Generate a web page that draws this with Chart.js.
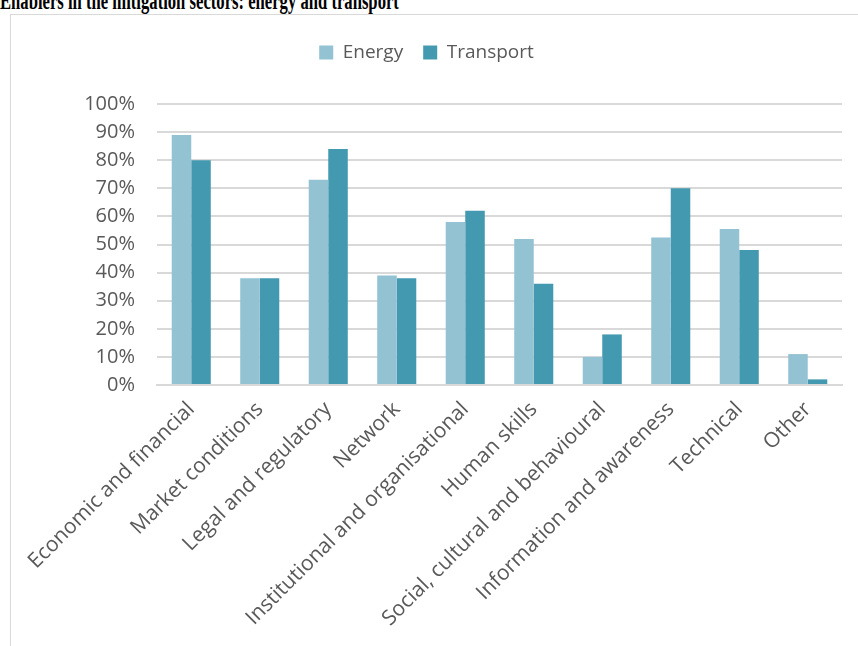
<!DOCTYPE html>
<html>
<head>
<meta charset="utf-8">
<script src="https://cdn.jsdelivr.net/npm/chart.js@4.4.0/dist/chart.umd.min.js"></script>
<style>
    body { margin: 0; background: #fff; width: 858px; height: 646px; overflow: hidden; position: relative; }
    #titulo {
        position: absolute; left: 0; top: -14px;
        font-family: "Liberation Serif", "Times New Roman", serif;
        font-weight: bold; font-size: 26px; color: #000; white-space: nowrap;
        transform: scaleX(0.64); transform-origin: left top;
    }
    #marco {
        position: absolute; left: 10px; top: 14px; width: 860px; height: 640px;
        border: 1px solid #d9d9d9; box-sizing: border-box;
    }
    #grafico { position: absolute; left: 11px; top: 15px; }
</style>
</head>
<body>
<div id="titulo">Enablers in the mitigation sectors: energy and transport</div>
<div id="marco"></div>
<canvas id="grafico" width="847" height="631"></canvas>
<script>
// Datos del gráfico
const categorias = [
    'Economic and financial', 'Market conditions', 'Legal and regulatory', 'Network',
    'Institutional and organisational', 'Human skills', 'Social, cultural and behavioural',
    'Information and awareness', 'Technical', 'Other'
];
const energia = [89, 38, 73, 39, 58, 52, 10, 52.5, 55.5, 11];
const transporte = [80, 38, 84, 38, 62, 36, 18, 70, 48, 2];
const ticksY = [0, 10, 20, 30, 40, 50, 60, 70, 80, 90, 100];

const colorTexto = '#595959';
const fuente = '"Open Sans", "Noto Sans", sans-serif';

// Espacio extra debajo de la leyenda
const espacioLeyenda = {
    id: 'espacioLeyenda',
    beforeInit(chart) {
        const fitOriginal = chart.legend.fit;
        chart.legend.fit = function() {
            fitOriginal.call(this);
            this.height += 32;
        };
    }
};

const ctx = document.getElementById('grafico').getContext('2d');
new Chart(ctx, {
    type: 'bar',
    data: {
        labels: categorias,
        datasets: [
            {
                label: 'Energy',
                data: energia,
                backgroundColor: '#93c2d3',
                categoryPercentage: 0.57,
                barPercentage: 1
            },
            {
                label: 'Transport',
                data: transporte,
                backgroundColor: '#4399b0',
                categoryPercentage: 0.57,
                barPercentage: 1
            }
        ]
    },
    plugins: [espacioLeyenda],
    options: {
        responsive: false,
        animation: false,
        layout: { padding: { left: 0, right: 16, top: 8, bottom: 0 } },
        plugins: {
            legend: {
                position: 'top',
                labels: {
                    color: colorTexto,
                    font: { family: fuente, size: 19 },
                    boxWidth: 14,
                    boxHeight: 14,
                    padding: 20
                }
            },
            tooltip: { enabled: false }
        },
        scales: {
            x: {
                grid: { display: false },
                border: { color: '#d9d9d9', width: 2 },
                ticks: {
                    color: colorTexto,
                    font: { family: fuente, size: 21 },
                    minRotation: 45,
                    maxRotation: 45,
                    autoSkip: false,
                    padding: 4
                },
                afterFit: function(escala) { escala.height = 261; }
            },
            y: {
                min: 0,
                max: 100,
                afterBuildTicks: function(escala) {
                    escala.ticks = ticksY.map(v => ({ value: v }));
                },
                grid: { color: '#d9d9d9', lineWidth: 2, drawTicks: false },
                border: { display: false },
                ticks: {
                    color: colorTexto,
                    font: { family: fuente, size: 20 },
                    padding: 22,
                    callback: v => v + '%'
                },
                afterFit: function(escala) { escala.width = 146; }
            }
        }
    }
});
</script>
</body>
</html>
